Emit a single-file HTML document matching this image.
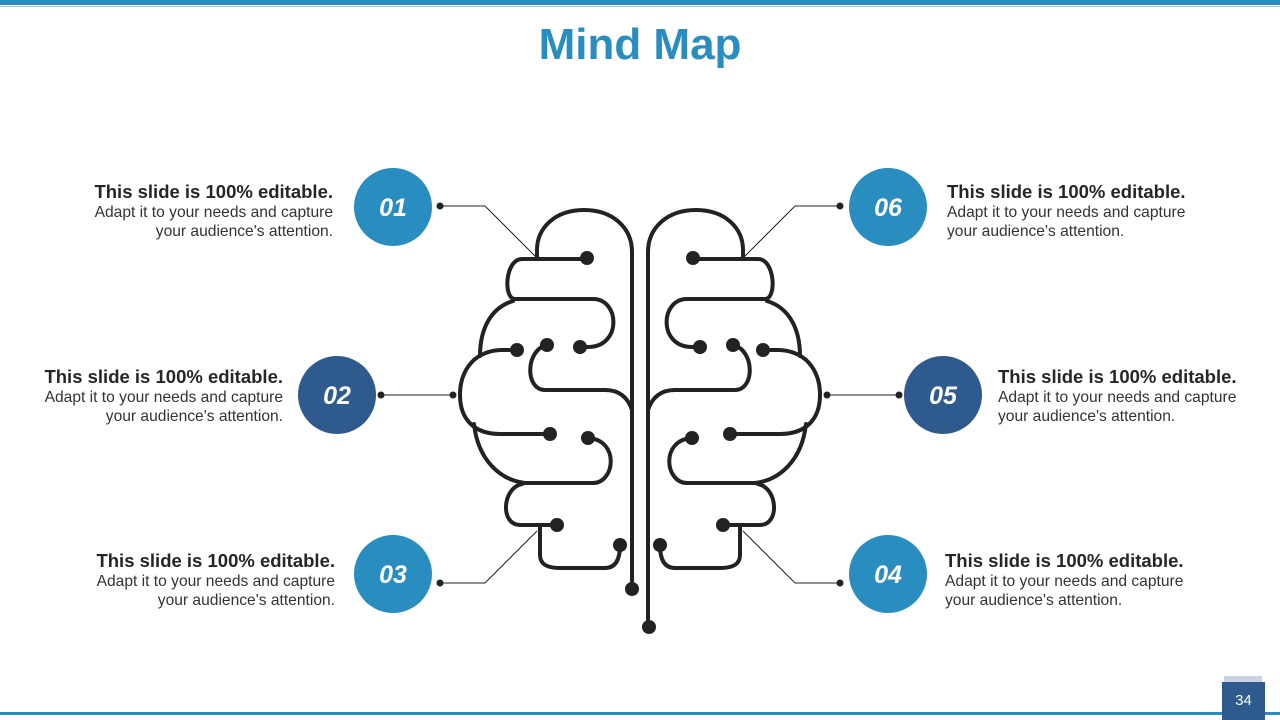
<!DOCTYPE html>
<html><head><meta charset="utf-8"><style>
body{margin:0;width:1280px;height:720px;position:relative;background:#fff;font-family:"Liberation Sans",Arial,sans-serif;overflow:hidden}
.t{position:absolute;width:300px;color:#333;font-size:15.6px;line-height:19px;white-space:nowrap}
.t b{font-size:18.5px;color:#262626;display:block;line-height:22px}
.r{text-align:right}
</style></head><body>
<div style="position:absolute;left:0;top:0;width:1280px;height:5px;background:#2a8dc0"></div>
<div style="position:absolute;left:0;top:6px;width:1280px;height:1px;background:#9cc7df"></div>
<div style="position:absolute;left:0;top:45px;width:1280px;text-align:center;font-size:44px;font-weight:bold;color:#2a8dc0;line-height:0">Mind Map</div>
<div style="position:absolute;left:0;top:712px;width:1280px;height:3px;background:#2a8dc0"></div>
<div style="position:absolute;left:1224px;top:676px;width:38px;height:6px;background:#c9d3e3"></div>
<div style="position:absolute;left:1222px;top:682px;width:43px;height:38px;background:#2e5a8e;color:#fff;font-size:15px;text-align:center;line-height:38px">34</div>

<svg width="1280" height="720" style="position:absolute;left:0;top:0">
<g fill="none" stroke="#222" stroke-width="1">
<path d="M440,206 H485 L537,258"/><path d="M381,395 H453"/><path d="M440,583 H485 L537,531"/>
<path d="M840,206 H795 L743,258"/><path d="M899,395 H827"/><path d="M840,583 H795 L743,531"/>
</g>
<g fill="#222"><circle cx="440" cy="206" r="3.5"/><circle cx="381" cy="395" r="3.5"/><circle cx="440" cy="583" r="3.5"/><circle cx="453" cy="395" r="3.5"/>
<circle cx="840" cy="206" r="3.5"/><circle cx="899" cy="395" r="3.5"/><circle cx="840" cy="583" r="3.5"/><circle cx="827" cy="395" r="3.5"/></g>
<g id="L" fill="none" stroke="#222" stroke-width="4" stroke-linecap="round">
<path d="M537,259 V250 C537,228 555,210 584,210 C613,210 632,228 632,252 V589"/>
<path d="M537,259 H587"/>
<path d="M537,259 H522 C505,259 503,299 515,299 H593 C620,299 622,347 588,347 H580"/>
<path d="M513,301 C490,308 480,330 480,356"/>
<path d="M516,350 H500 C470,352 460,375 460,395 C460,420 475,434 500,434 H550"/>
<path d="M474,424 C478,460 500,480 525,483 H593 C615,483 620,440 588,438"/>
<path d="M547,345 C525,350 525,390 545,390 H605 C620,390 628,398 632,410"/>
<path d="M522,484 C502,488 500,525 520,525 H557"/>
<path d="M540,528 V555 C540,565 548,568 560,568 H605 C618,568 620,555 620,545"/>
</g>
<use href="#L" transform="translate(1280,0) scale(-1,1)"/>
<path d="M648,252 V627" stroke="#222" stroke-width="4" fill="none"/>
<g fill="#222">
<circle cx="587" cy="258" r="7"/><circle cx="580" cy="347" r="7"/><circle cx="547" cy="345" r="7"/><circle cx="517" cy="350" r="7"/>
<circle cx="550" cy="434" r="7"/><circle cx="588" cy="438" r="7"/><circle cx="557" cy="525" r="7"/><circle cx="620" cy="545" r="7"/><circle cx="632" cy="589" r="7"/>
<circle cx="693" cy="258" r="7"/><circle cx="700" cy="347" r="7"/><circle cx="733" cy="345" r="7"/><circle cx="763" cy="350" r="7"/>
<circle cx="730" cy="434" r="7"/><circle cx="692" cy="438" r="7"/><circle cx="723" cy="525" r="7"/><circle cx="660" cy="545" r="7"/><circle cx="649" cy="627" r="7"/>
</g>
<g font-family="Liberation Sans,Arial,sans-serif" font-size="25" font-weight="bold" font-style="italic" fill="#fff" text-anchor="middle">
<circle cx="393" cy="207" r="39" fill="#2a8dc0"/><text x="393" y="216">01</text>
<circle cx="337" cy="395" r="39" fill="#2e5a8e"/><text x="337" y="404">02</text>
<circle cx="393" cy="574" r="39" fill="#2a8dc0"/><text x="393" y="583">03</text>
<circle cx="888" cy="207" r="39" fill="#2a8dc0"/><text x="888" y="216">06</text>
<circle cx="943" cy="395" r="39" fill="#2e5a8e"/><text x="943" y="404">05</text>
<circle cx="888" cy="574" r="39" fill="#2a8dc0"/><text x="888" y="583">04</text>
</g>
</svg>
<div class="t r" style="left:33px;top:181px"><b>This slide is 100% editable.</b>Adapt it to your needs and capture<br>your audience's attention.</div>
<div class="t r" style="left:-17px;top:366px"><b>This slide is 100% editable.</b>Adapt it to your needs and capture<br>your audience's attention.</div>
<div class="t r" style="left:35px;top:550px"><b>This slide is 100% editable.</b>Adapt it to your needs and capture<br>your audience's attention.</div>
<div class="t" style="left:947px;top:181px"><b>This slide is 100% editable.</b>Adapt it to your needs and capture<br>your audience's attention.</div>
<div class="t" style="left:998px;top:366px"><b>This slide is 100% editable.</b>Adapt it to your needs and capture<br>your audience's attention.</div>
<div class="t" style="left:945px;top:550px"><b>This slide is 100% editable.</b>Adapt it to your needs and capture<br>your audience's attention.</div>
</body></html>
